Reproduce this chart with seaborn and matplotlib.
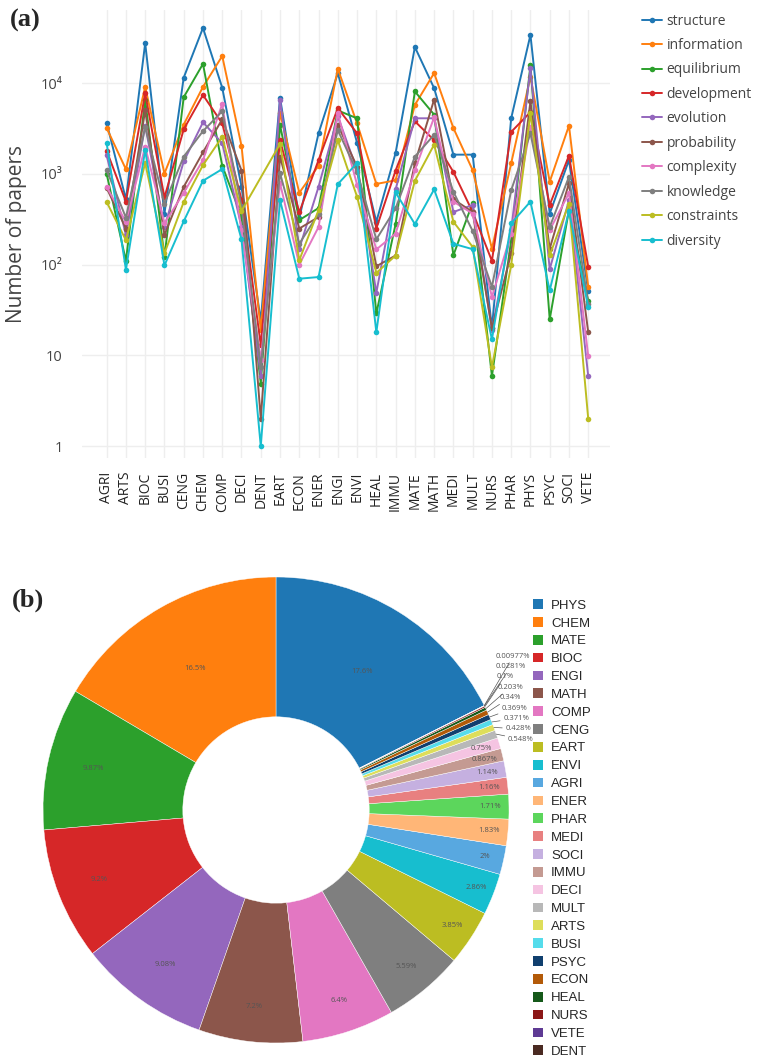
import numpy as np
import pandas as pd
import seaborn as sns
import matplotlib.pyplot as plt
from matplotlib.patches import Patch
from matplotlib.ticker import FixedLocator, FixedFormatter, NullLocator

sns.set_theme(style="white")
plt.rcParams['font.family'] = ['Open Sans', 'DejaVu Sans']

# ---- data (a): number of papers per subject area for each keyword
subjects = ["AGRI", "ARTS", "BIOC", "BUSI", "CENG", "CHEM", "COMP", "DECI", "DENT",
            "EART", "ECON", "ENER", "ENGI", "ENVI", "HEAL", "IMMU", "MATE", "MATH",
            "MEDI", "MULT", "NURS", "PHAR", "PHYS", "PSYC", "SOCI", "VETE"]

structure = [3650, 525, 27600, 365, 11500, 40600, 8900, 720, 24, 6930, 325, 2800, 12900,
             2200, 297, 1700, 25000, 8800, 1630, 1630, 20, 4100, 34000, 365, 1420, 51]
information = [3200, 1125, 9100, 1010, 3500, 9100, 19900, 2040, 19, 4700, 620, 1230, 14400,
               3600, 775, 850, 5750, 12900, 3200, 1100, 150, 1310, 11800, 820, 3400, 57]
equilibrium = [1000, 110, 6600, 122, 7000, 16300, 1230, 340, 4.9, 3470, 310, 420, 5000,
               4100, 29, 280, 8100, 4500, 127, 480, 5.9, 185, 15800, 25, 400, 40]
development = [1800, 495, 7700, 550, 3100, 7400, 3600, 520, 13, 2350, 377, 1420, 5300,
               2800, 250, 1090, 3800, 2350, 1050, 380, 110, 2900, 4800, 455, 1590, 95]
evolution = [1600, 212, 3400, 260, 1370, 3700, 2180, 260, 6, 6600, 150, 720, 4300,
             1100, 49, 675, 4100, 4100, 380, 455, 19, 240, 14600, 89, 510, 5.9]
probability = [700, 250, 5000, 212, 720, 1730, 4000, 1090, 2, 1550, 250, 335, 3470,
               1200, 96, 126, 1310, 6600, 525, 380, 20, 133, 6300, 150, 790, 18]
complexity = [720, 296, 2000, 285, 620, 1420, 5900, 240, 9, 790, 100, 260, 4650,
              760, 147, 220, 1100, 4200, 495, 365, 44, 220, 3300, 240, 615, 9.8]
knowledge = [1100, 330, 3300, 470, 1550, 2960, 4900, 440, 7.4, 1020, 170, 365, 3040,
             1050, 190, 417, 1550, 2700, 635, 235, 57, 660, 2800, 260, 930, 37]
constraints = [490, 186, 1320, 133, 490, 1250, 2560, 390, np.nan, 2140, 112, 400, 2350,
               560, 81, 126, 840, 2100, 297, 157, 7.4, 99, 4650, 127, 470, 2]
diversity = [2180, 88, 1830, 98, 300, 840, 1130, 190, 1, 515, 70, 73, 770,
             1320, 18, 625, 280, 675, 170, 148, 15, 285, 495, 52, 390, 34]

keywords = ["structure", "information", "equilibrium", "development", "evolution",
            "probability", "complexity", "knowledge", "constraints", "diversity"]
series = [structure, information, equilibrium, development, evolution,
          probability, complexity, knowledge, constraints, diversity]

# ---- data (b): share of papers per subject area (%)
pie_labels = ["PHYS", "CHEM", "MATE", "BIOC", "ENGI", "MATH", "COMP", "CENG", "EART",
              "ENVI", "AGRI", "ENER", "PHAR", "MEDI", "SOCI", "IMMU", "DECI", "MULT",
              "ARTS", "BUSI", "PSYC", "ECON", "HEAL", "NURS", "VETE", "DENT"]
pie_share = [17.6, 16.5, 9.87, 9.2, 9.08, 7.2, 6.40, 5.59, 3.85, 2.86, 2, 1.83, 1.71,
             1.16, 1.14, 0.867, 0.750, 0.548, 0.428, 0.371, 0.369, 0.340, 0.203, 0.1,
             0.0281, 0.00977]
pie_colors = ["#1f77b4", "#ff7f0e", "#2ca02c", "#d62728", "#9467bd", "#8c564b", "#e377c2",
              "#7f7f7f", "#bcbd22", "#17becf", "#58a8e0", "#ffb677", "#5cd65c", "#e88080",
              "#c5b0e0", "#c49a92", "#f5c4e2", "#b8b8b8", "#dede5a", "#55dceb", "#103f6e",
              "#b35a08", "#15591a", "#8c1717", "#5e3a94", "#4a2a22"]

rows = []
for kw, vals in zip(keywords, series):
    for i, v in enumerate(vals):
        if not np.isnan(v):
            rows.append({"pos": i, "subject": subjects[i], "keyword": kw, "papers": v})
df = pd.DataFrame(rows)

fig = plt.figure(figsize=(7.65, 10.58), dpi=100)

# ---------------- (a) line chart
ax = fig.add_axes([82 / 765, 1 - 458 / 1058, 528 / 765, 448 / 1058])
sns.lineplot(data=df, x="pos", y="papers", hue="keyword", hue_order=keywords,
             palette="tab10", marker="o", markersize=4, markeredgewidth=0,
             linewidth=1.4, sort=True, ax=ax)
ax.set_yscale("log")
ax.set_ylim(0.74, 64000)
ax.set_xlim(-1.28, 26.13)
ax.yaxis.set_major_locator(FixedLocator([1, 10, 100, 1000, 10000]))
ax.yaxis.set_major_formatter(FixedFormatter(["1", "10", "10²", "10³", "10⁴"]))
ax.yaxis.set_minor_locator(NullLocator())
ax.set_xticks(range(len(subjects)))
ax.set_xticklabels(subjects, rotation=90, fontsize=10, color="#222222")
ax.tick_params(axis="y", labelsize=10.5, labelcolor="#444444", pad=8)
ax.tick_params(axis="x", pad=4)
ax.grid(True, color="#eeeeee", linewidth=1)
for s in ax.spines.values():
    s.set_visible(False)
ax.set_xlabel("")
ax.set_ylabel("Number of papers", fontsize=15, color="#444444", labelpad=10)
handles, labels = ax.get_legend_handles_labels()
ax.legend(handles, labels, loc="upper left", bbox_to_anchor=(636 / 765, 1 - 8 / 1058),
          bbox_transform=fig.transFigure, frameon=False, fontsize=10,
          labelspacing=0.68, handlelength=1.45, handletextpad=0.35, borderaxespad=0)
for t in ax.get_legend().get_texts():
    t.set_color("#444444")

fig.text(10 / 765, 1 - 20 / 1058, "(a)", fontsize=19, fontweight="bold",
         family="Liberation Serif", va="center")
fig.text(12 / 765, 1 - 600 / 1058, "(b)", fontsize=19, fontweight="bold",
         family="Liberation Serif", va="center")

# ---------------- (b) donut chart
cx, cy, r = 276, 810, 233
axp = fig.add_axes([(cx - r) / 765, 1 - (cy + r) / 1058, 2 * r / 765, 2 * r / 1058])
total = sum(pie_share)
start = 90 - 360 * pie_share[0] / total
wedges, _ = axp.pie(pie_share, colors=pie_colors, startangle=start, counterclock=True,
                    radius=1, wedgeprops=dict(width=0.6, edgecolor="white", linewidth=0.3))
axp.set_xlim(-1, 1)
axp.set_ylim(-1, 1)
axp.axis("off")

small = []
for w, p in zip(wedges, pie_share):
    mid = np.deg2rad((w.theta1 + w.theta2) / 2)
    if p >= 0.7:
        rr = 0.92 - 0.22 * min(1, max(0, (p - 3) / 13))
        axp.text(rr * np.cos(mid), rr * np.sin(mid), f"{p:.3g}%", fontsize=5.5,
                 color="#555555", ha="center", va="center")
    else:
        small.append((mid, p))

# outside labels for the tiny slices, stacked top-down
small.sort(key=lambda t: -np.sin(t[0]))
for k, (mid, p) in enumerate(small):
    ex, ey = np.cos(mid), np.sin(mid)
    ty = (cy - (656 + k * 10.4)) / r
    tx = max(0.935, ex + 0.05)
    axp.annotate(f"{p:.3g}%", xy=(ex, ey), xytext=(tx, ty), fontsize=5.5,
                 color="#555555", ha="left", va="center",
                 arrowprops=dict(arrowstyle="-", color="#555555", lw=0.5,
                                 shrinkA=0, shrinkB=0))

leg_handles = [Patch(facecolor=c, edgecolor="none") for c in pie_colors]
axp.legend(leg_handles, pie_labels, loc="upper left",
           bbox_to_anchor=(528 / 765, 1 - 594 / 1058), bbox_transform=fig.transFigure,
           frameon=False, labelspacing=0.41, handlelength=0.75,
           handleheight=0.75, handletextpad=0.6, borderaxespad=0,
           prop={"family": "Liberation Sans", "size": 9.5})

fig.savefig("out.png", dpi=100)
